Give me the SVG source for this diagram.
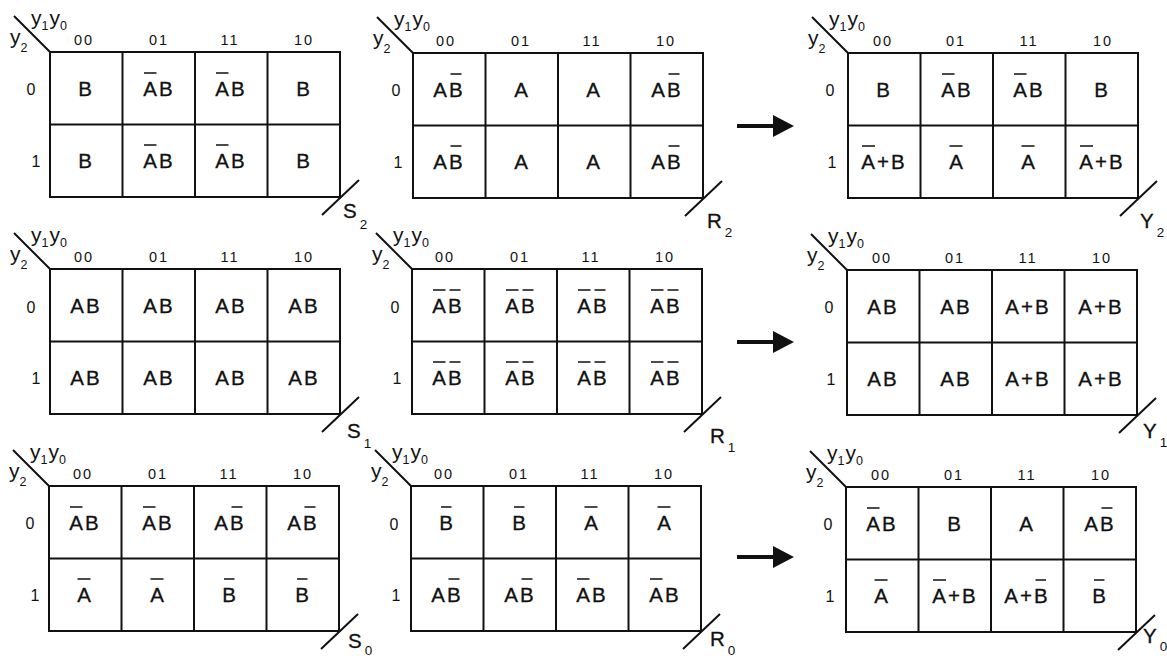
<svg xmlns="http://www.w3.org/2000/svg" width="1167" height="659" viewBox="0 0 1167 659">
<style>
.g{fill:none;stroke:#111;stroke-width:2}
.bar{fill:none;stroke:#111;stroke-width:1.6}
text{font-family:"Liberation Sans",Arial,Helvetica,sans-serif;fill:#111}
.c{font-size:20.5px;letter-spacing:2px;text-anchor:middle;stroke:#111;stroke-width:0.3}
.h{font-size:14.5px;letter-spacing:2px;text-anchor:middle}
.r{font-size:16px;text-anchor:middle}
.ax{font-size:21px}
.sub{font-size:12.5px}
.o{font-size:20.5px;stroke:#111;stroke-width:0.3}
.os{font-size:13.5px;stroke-width:0}
.arr{stroke:#111;stroke-width:4}
.head{fill:#111}
</style>
<defs>
<path id="grid" d="M0 0H290V145H0Z M72.5 0V145 M145 0V145 M217.5 0V145 M0 72.5H290 M-36 -36L0 0 M309 128L272 163"/>
</defs>

<g id="map-S2" transform="translate(50,52)">
<use href="#grid" class="g"/>
<text class="ax" x="-19" y="-27">y<tspan class="sub" dy="5">1</tspan><tspan dy="-5" dx="1">y</tspan><tspan class="sub" dy="5">0</tspan></text>
<text class="ax" x="-40" y="-8">y<tspan class="sub" dy="8">2</tspan></text>
<text class="h" x="34" y="-7">00</text><text class="h" x="109" y="-7">01</text><text class="h" x="180" y="-7">11</text><text class="h" x="254" y="-7">10</text>
<text class="r" x="-19" y="43">0</text><text class="r" x="-14" y="115">1</text>
<text class="c" x="36" y="44">B</text><text class="c" x="109" y="44">AB</text><text class="c" x="181" y="44">AB</text><text class="c" x="254" y="44">B</text>
<text class="c" x="36" y="116">B</text><text class="c" x="109" y="116">AB</text><text class="c" x="181" y="116">AB</text><text class="c" x="254" y="116">B</text>
<path class="bar" d="M94 21H106.5M166 21H178.5M94 93H106.5M166 93H178.5"/>
<text class="o" x="293" y="166">S<tspan class="os" dx="3" dy="11">2</tspan></text>
</g>

<g id="map-R2" transform="translate(413,53)">
<use href="#grid" class="g"/>
<text class="ax" x="-19" y="-27">y<tspan class="sub" dy="5">1</tspan><tspan dy="-5" dx="1">y</tspan><tspan class="sub" dy="5">0</tspan></text>
<text class="ax" x="-40" y="-8">y<tspan class="sub" dy="8">2</tspan></text>
<text class="h" x="33" y="-7">00</text><text class="h" x="108" y="-7">01</text><text class="h" x="179" y="-7">11</text><text class="h" x="253" y="-7">10</text>
<text class="r" x="-17" y="43">0</text><text class="r" x="-15" y="115">1</text>
<text class="c" x="36" y="44">AB</text><text class="c" x="109" y="44">A</text><text class="c" x="181" y="44">A</text><text class="c" x="254" y="44">AB</text>
<text class="c" x="36" y="116">AB</text><text class="c" x="109" y="116">A</text><text class="c" x="181" y="116">A</text><text class="c" x="254" y="116">AB</text>
<path class="bar" d="M37.5 21H48.5M255.5 21H266.5M37.5 93H48.5M255.5 93H266.5"/>
<text class="o" x="294" y="175">R<tspan class="os" dx="3" dy="9">2</tspan></text>
</g>

<g id="map-Y2" transform="translate(848,53)">
<use href="#grid" class="g"/>
<text class="ax" x="-19" y="-27">y<tspan class="sub" dy="5">1</tspan><tspan dy="-5" dx="1">y</tspan><tspan class="sub" dy="5">0</tspan></text>
<text class="ax" x="-40" y="-8">y<tspan class="sub" dy="8">2</tspan></text>
<text class="h" x="35" y="-7">00</text><text class="h" x="108" y="-7">01</text><text class="h" x="181" y="-7">11</text><text class="h" x="255" y="-7">10</text>
<text class="r" x="-18" y="43">0</text><text class="r" x="-16" y="115">1</text>
<text class="c" x="36" y="44">B</text><text class="c" x="109" y="44">AB</text><text class="c" x="181" y="44">AB</text><text class="c" x="254" y="44">B</text>
<text class="c" x="36" y="116">A+B</text><text class="c" x="109" y="116">A</text><text class="c" x="181" y="116">A</text><text class="c" x="254" y="116">A+B</text>
<path class="bar" d="M94 21H106.5M166 21H178.5M14 93H27M101.5 93H114.5M173.5 93H186.5M232 93H245"/>
<text class="o" x="292" y="175">Y<tspan class="os" dx="3" dy="9">2</tspan></text>
</g>

<g id="map-S1" transform="translate(50,269)">
<use href="#grid" class="g"/>
<text class="ax" x="-19" y="-27">y<tspan class="sub" dy="5">1</tspan><tspan dy="-5" dx="1">y</tspan><tspan class="sub" dy="5">0</tspan></text>
<text class="ax" x="-40" y="-8">y<tspan class="sub" dy="8">2</tspan></text>
<text class="h" x="34" y="-7">00</text><text class="h" x="109" y="-7">01</text><text class="h" x="180" y="-7">11</text><text class="h" x="254" y="-7">10</text>
<text class="r" x="-19" y="44">0</text><text class="r" x="-14" y="115">1</text>
<text class="c" x="36" y="44">AB</text><text class="c" x="109" y="44">AB</text><text class="c" x="181" y="44">AB</text><text class="c" x="254" y="44">AB</text>
<text class="c" x="36" y="116">AB</text><text class="c" x="109" y="116">AB</text><text class="c" x="181" y="116">AB</text><text class="c" x="254" y="116">AB</text>
<text class="o" x="297" y="169">S<tspan class="os" dx="3" dy="10">1</tspan></text>
</g>

<g id="map-R1" transform="translate(412,269)">
<use href="#grid" class="g"/>
<text class="ax" x="-19" y="-27">y<tspan class="sub" dy="5">1</tspan><tspan dy="-5" dx="1">y</tspan><tspan class="sub" dy="5">0</tspan></text>
<text class="ax" x="-40" y="-8">y<tspan class="sub" dy="8">2</tspan></text>
<text class="h" x="33" y="-7">00</text><text class="h" x="108" y="-7">01</text><text class="h" x="179" y="-7">11</text><text class="h" x="253" y="-7">10</text>
<text class="r" x="-17" y="44">0</text><text class="r" x="-15" y="115">1</text>
<text class="c" x="36" y="44">AB</text><text class="c" x="109" y="44">AB</text><text class="c" x="181" y="44">AB</text><text class="c" x="254" y="44">AB</text>
<text class="c" x="36" y="116">AB</text><text class="c" x="109" y="116">AB</text><text class="c" x="181" y="116">AB</text><text class="c" x="254" y="116">AB</text>
<path class="bar" d="M21 21H33.5M37.5 21H48.5M94 21H106.5M110.5 21H121.5M166 21H178.5M182.5 21H193.5M239 21H251.5M255.5 21H266.5M21 93H33.5M37.5 93H48.5M94 93H106.5M110.5 93H121.5M166 93H178.5M182.5 93H193.5M239 93H251.5M255.5 93H266.5"/>
<text class="o" x="298" y="174">R<tspan class="os" dx="3" dy="9">1</tspan></text>
</g>

<g id="map-Y1" transform="translate(847,270)">
<use href="#grid" class="g"/>
<text class="ax" x="-19" y="-27">y<tspan class="sub" dy="5">1</tspan><tspan dy="-5" dx="1">y</tspan><tspan class="sub" dy="5">0</tspan></text>
<text class="ax" x="-40" y="-8">y<tspan class="sub" dy="8">2</tspan></text>
<text class="h" x="35" y="-7">00</text><text class="h" x="108" y="-7">01</text><text class="h" x="181" y="-7">11</text><text class="h" x="255" y="-7">10</text>
<text class="r" x="-18" y="43">0</text><text class="r" x="-16" y="115">1</text>
<text class="c" x="36" y="44">AB</text><text class="c" x="109" y="44">AB</text><text class="c" x="181" y="44">A+B</text><text class="c" x="254" y="44">A+B</text>
<text class="c" x="36" y="116">AB</text><text class="c" x="109" y="116">AB</text><text class="c" x="181" y="116">A+B</text><text class="c" x="254" y="116">A+B</text>
<text class="o" x="296" y="168">Y<tspan class="os" dx="3" dy="9">1</tspan></text>
</g>

<g id="map-S0" transform="translate(49,486)">
<use href="#grid" class="g"/>
<text class="ax" x="-19" y="-27">y<tspan class="sub" dy="5">1</tspan><tspan dy="-5" dx="1">y</tspan><tspan class="sub" dy="5">0</tspan></text>
<text class="ax" x="-40" y="-8">y<tspan class="sub" dy="8">2</tspan></text>
<text class="h" x="34" y="-7">00</text><text class="h" x="109" y="-7">01</text><text class="h" x="180" y="-7">11</text><text class="h" x="254" y="-7">10</text>
<text class="r" x="-19" y="43">0</text><text class="r" x="-14" y="115">1</text>
<text class="c" x="36" y="44">AB</text><text class="c" x="109" y="44">AB</text><text class="c" x="181" y="44">AB</text><text class="c" x="254" y="44">AB</text>
<text class="c" x="36" y="116">A</text><text class="c" x="109" y="116">A</text><text class="c" x="181" y="116">B</text><text class="c" x="254" y="116">B</text>
<path class="bar" d="M21 21H33.5M94 21H106.5M182.5 21H193.5M255.5 21H266.5M28.5 93H41.5M101.5 93H114.5M175 93H185.5M248 93H258.5"/>
<text class="o" x="299" y="162">S<tspan class="os" dx="3" dy="7">0</tspan></text>
</g>

<g id="map-R0" transform="translate(411,486)">
<use href="#grid" class="g"/>
<text class="ax" x="-19" y="-27">y<tspan class="sub" dy="5">1</tspan><tspan dy="-5" dx="1">y</tspan><tspan class="sub" dy="5">0</tspan></text>
<text class="ax" x="-40" y="-8">y<tspan class="sub" dy="8">2</tspan></text>
<text class="h" x="33" y="-7">00</text><text class="h" x="108" y="-7">01</text><text class="h" x="179" y="-7">11</text><text class="h" x="253" y="-7">10</text>
<text class="r" x="-17" y="44">0</text><text class="r" x="-15" y="115">1</text>
<text class="c" x="36" y="44">B</text><text class="c" x="109" y="44">B</text><text class="c" x="181" y="44">A</text><text class="c" x="254" y="44">A</text>
<text class="c" x="36" y="116">AB</text><text class="c" x="109" y="116">AB</text><text class="c" x="181" y="116">AB</text><text class="c" x="254" y="116">AB</text>
<path class="bar" d="M30 21H40.5M103 21H113.5M173.5 21H186.5M246.5 21H259.5M37.5 93H48.5M110.5 93H121.5M166 93H178.5M239 93H251.5"/>
<text class="o" x="299" y="160">R<tspan class="os" dx="3" dy="9">0</tspan></text>
</g>

<g id="map-Y0" transform="translate(846,487)">
<use href="#grid" class="g"/>
<text class="ax" x="-19" y="-27">y<tspan class="sub" dy="5">1</tspan><tspan dy="-5" dx="1">y</tspan><tspan class="sub" dy="5">0</tspan></text>
<text class="ax" x="-40" y="-8">y<tspan class="sub" dy="8">2</tspan></text>
<text class="h" x="35" y="-7">00</text><text class="h" x="108" y="-7">01</text><text class="h" x="181" y="-7">11</text><text class="h" x="255" y="-7">10</text>
<text class="r" x="-18" y="43">0</text><text class="r" x="-16" y="115">1</text>
<text class="c" x="36" y="44">AB</text><text class="c" x="109" y="44">B</text><text class="c" x="181" y="44">A</text><text class="c" x="254" y="44">AB</text>
<text class="c" x="36" y="116">A</text><text class="c" x="109" y="116">A+B</text><text class="c" x="181" y="116">A+B</text><text class="c" x="254" y="116">B</text>
<path class="bar" d="M21 21H33.5M255.5 21H266.5M28.5 93H41.5M87 93H100M189.5 93H200M248 93H258.5"/>
<text class="o" x="297" y="156">Y<tspan class="os" dx="3" dy="8">0</tspan></text>
</g>

<g id="connectors">
<line class="arr" x1="737" y1="126" x2="775" y2="126"/>
<polygon class="head" points="773,115 794,126 773,137"/>
<line class="arr" x1="737" y1="342" x2="775" y2="342"/>
<polygon class="head" points="773,331 794,342 773,353"/>
<line class="arr" x1="737" y1="557" x2="775" y2="557"/>
<polygon class="head" points="773,546 794,557 773,568"/>
</g>
</svg>
